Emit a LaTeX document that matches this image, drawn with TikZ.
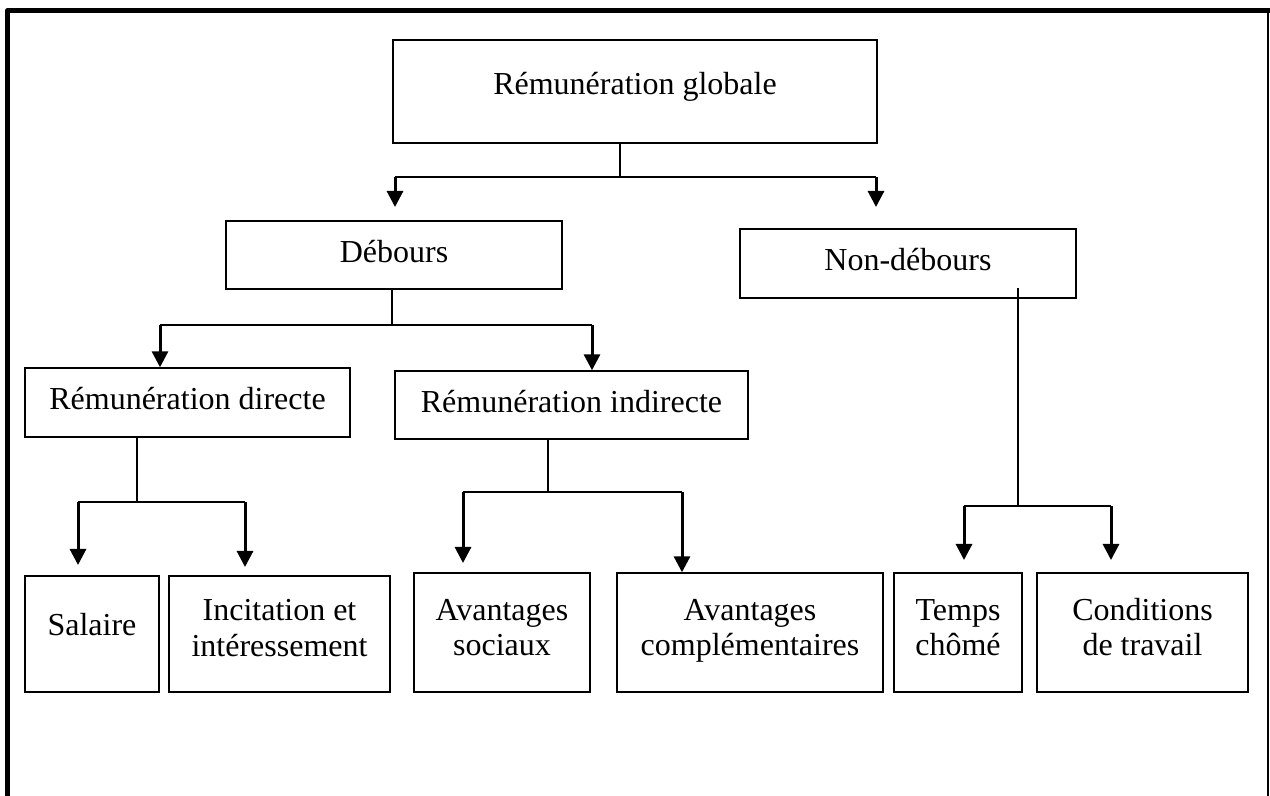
\documentclass[tikz,border=0pt]{standalone}
\usepackage{fontspec}
\setmainfont{Liberation Serif}
\usetikzlibrary{arrows.meta}

\tikzset{
  box/.style={draw, line width=0.7pt, inner sep=0pt, rectangle},
  % anchor=base sits on the last line of a multi-line label
  txt/.style={inner sep=0pt, anchor=base, align=center,
    font=\fontsize{16pt}{17.5pt}\selectfont},
  link/.style={line width=1pt},
  arrowline/.style={line width=1.5pt,
    -{Triangle[length=8pt,width=8pt]}},
  frameline/.style={line width=2.5pt, line join=round}
}

\begin{document}
\begin{tikzpicture}[x=0.5pt, y=-0.5pt]
  \useasboundingbox (0,0) rectangle (1270,796);

  % outer frame: heavy left and top edges, thin right edge, open bottom
  \draw[frameline] (7.5,796) -- (7.5,10.5) -- (1270,10.5);
  \draw[line width=0.8pt] (1268,10.5) -- (1268,796);

  % boxes
  \node[box, minimum width=242pt,   minimum height=51.5pt] (glob)   at (635,91.5)  {};
  \node[box, minimum width=168pt,   minimum height=34pt]   (deb)    at (394,255)   {};
  \node[box, minimum width=168pt,   minimum height=34.5pt] (nondeb) at (908,263.5) {};
  \node[box, minimum width=162.5pt, minimum height=34.5pt] (rdir)   at (187.5,402.5) {};
  \node[box, minimum width=176.5pt, minimum height=34pt]   (rind)   at (571.5,405) {};
  \node[box, minimum width=67pt,    minimum height=58pt]   (sal)    at (92,634)    {};
  \node[box, minimum width=110.5pt, minimum height=58pt]   (inc)    at (279.5,634) {};
  \node[box, minimum width=88pt,    minimum height=59.5pt] (avsoc)  at (502,632.5) {};
  \node[box, minimum width=133pt,   minimum height=59.5pt] (avcomp) at (750,632.5) {};
  \node[box, minimum width=64pt,    minimum height=59.5pt] (temps)  at (958,632.5) {};
  \node[box, minimum width=105.5pt, minimum height=59.5pt] (cond)   at (1142.5,632.5) {};

  % labels, placed on their (last) baselines
  \node[txt] (globt)   at (635,95)    {Rémunération globale};
  \node[txt] (debt)    at (394,263)   {Débours};
  \node[txt] (nondebt) at (908,271)   {Non-débours};
  \node[txt] (rdirt)   at (187.5,410) {Rémunération directe};
  \node[txt] (rindt)   at (571.5,413) {Rémunération indirecte};
  \node[txt] (salt)    at (92,636)    {Salaire};
  \node[txt] (inct)    at (279.5,656) {Incitation et\\intéressement};
  \node[txt] (avsoct)  at (502,655)   {Avantages\\sociaux};
  \node[txt] (avcompt) at (750,655)   {Avantages\\complémentaires};
  \node[txt] (tempst)  at (958,655)   {Temps\\chômé};
  \node[txt] (condt)   at (1142.5,655) {Conditions\\de travail};

  % branch points and free arrow ends
  \coordinate (j0) at (620,177);
  \coordinate (jl) at (395,177);
  \coordinate (jr) at (876,177);
  \coordinate (tdeb) at (395,207);
  \coordinate (tnd)  at (876,207);

  \coordinate (k0) at (392,325);
  \coordinate (kl) at (160,325);
  \coordinate (kr) at (592,325);

  \coordinate (m0) at (137,502);
  \coordinate (ml) at (78,502);
  \coordinate (mr) at (245,502);
  \coordinate (tsal) at (78,565);
  \coordinate (tinc) at (245,567);

  \coordinate (n0) at (548,492);
  \coordinate (nl) at (463,492);
  \coordinate (nr) at (682,492);
  \coordinate (tavs) at (463,563);

  \coordinate (p0s) at (1018,288);
  \coordinate (p0) at (1018,506);
  \coordinate (pl) at (964,506);
  \coordinate (pr) at (1111,506);
  \coordinate (ttmp) at (964,560);
  \coordinate (tcnd) at (1111,560);

  % Rémunération globale -> Débours / Non-débours
  \draw[link] (glob.south -| j0) -- (j0);
  \draw[link] (jl) -- (jr);
  \draw[arrowline] (jl) -- (tdeb);
  \draw[arrowline] (jr) -- (tnd);

  % Débours -> rémunération directe / indirecte
  \draw[link] (deb.south -| k0) -- (k0);
  \draw[link] (kl) -- (kr);
  \draw[arrowline] (kl) -- (rdir.north -| kl);
  \draw[arrowline] (kr) -- (rind.north -| kr);

  % Rémunération directe -> Salaire / Incitation
  \draw[link] (rdir.south -| m0) -- (m0);
  \draw[link] (ml) -- (mr);
  \draw[arrowline] (ml) -- (tsal);
  \draw[arrowline] (mr) -- (tinc);

  % Rémunération indirecte -> Avantages
  \draw[link] (rind.south -| n0) -- (n0);
  \draw[link] (nl) -- (nr);
  \draw[arrowline] (nl) -- (tavs);
  \draw[arrowline] (nr) -- (avcomp.north -| nr);

  % Non-débours -> Temps chômé / Conditions de travail
  \draw[link] (p0s) -- (p0);
  \draw[link] (pl) -- (pr);
  \draw[arrowline] (pl) -- (ttmp);
  \draw[arrowline] (pr) -- (tcnd);
\end{tikzpicture}
\end{document}
